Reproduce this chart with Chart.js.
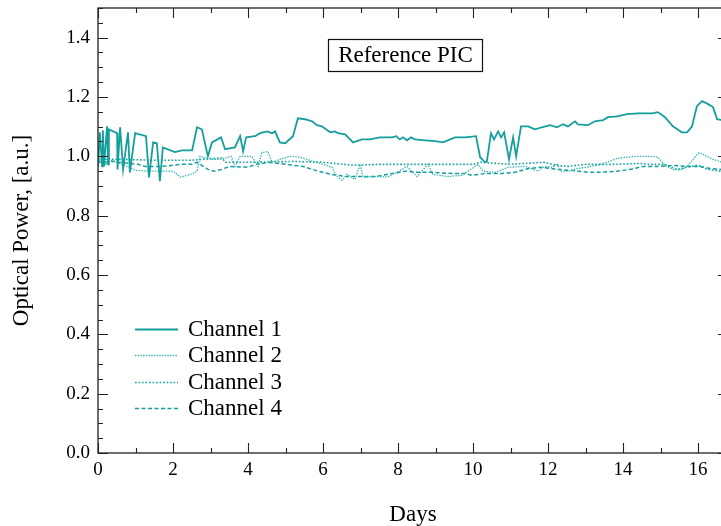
<!DOCTYPE html>
<html><head><meta charset="utf-8">
<script src="https://cdn.jsdelivr.net/npm/chart.js@4/dist/chart.umd.min.js"></script>
<style>html,body{margin:0;padding:0;overflow:hidden;background:#fff}</style>
</head><body>
<canvas id="c" width="740" height="526" style="display:block;width:740px;height:526px"></canvas>
<script>
// ---------------- data ----------------
const channelNames = ['Channel 1', 'Channel 2', 'Channel 3', 'Channel 4'];
const chartTitle = 'Reference PIC';
const xAxisTitle = 'Days';
const yAxisTitle = 'Optical Power, [a.u.]';
const xTickValues = [0, 2, 4, 6, 8, 10, 12, 14, 16];
const yTickValues = [0.0, 0.2, 0.4, 0.6, 0.8, 1.0, 1.2, 1.4];

const ch1Days = [0.00,0.05,0.11,0.13,0.16,0.24,0.27,0.29,0.51,0.52,0.59,0.67,0.80,0.85,0.99,1.28,1.36,1.47,1.57,1.65,1.73,2.05,2.24,2.51,2.64,2.77,2.93,3.04,3.28,3.39,3.65,3.79,3.87,3.95,4.19,4.32,4.51,4.64,4.72,4.85,4.99,5.20,5.33,5.52,5.71,5.84,5.97,6.19,6.32,6.40,6.59,6.80,7.04,7.25,7.52,7.84,7.95,8.05,8.13,8.24,8.35,8.45,8.72,8.99,9.20,9.52,9.79,10.08,10.19,10.32,10.37,10.48,10.56,10.67,10.75,10.83,10.96,11.07,11.15,11.28,11.47,11.65,11.84,12.05,12.24,12.40,12.53,12.72,12.80,13.07,13.25,13.47,13.60,13.84,14.11,14.40,14.77,14.93,15.12,15.33,15.57,15.71,15.84,15.97,16.11,16.27,16.40,16.51,16.64,16.80];
const ch1Power = [0.963,1.081,0.966,1.088,0.966,1.101,0.973,1.091,1.078,0.956,1.098,0.956,1.081,0.946,1.078,1.068,0.929,1.047,1.044,0.916,1.030,1.014,1.020,1.020,1.098,1.091,1.000,1.047,1.064,1.024,1.030,1.068,1.017,1.064,1.068,1.078,1.084,1.078,1.084,1.047,1.044,1.068,1.128,1.125,1.118,1.105,1.101,1.081,1.084,1.078,1.074,1.047,1.057,1.057,1.064,1.064,1.068,1.057,1.064,1.054,1.064,1.057,1.054,1.051,1.047,1.064,1.064,1.068,0.997,0.980,0.983,1.078,1.057,1.084,1.064,1.081,0.990,1.064,1.000,1.101,1.101,1.091,1.098,1.105,1.098,1.108,1.101,1.118,1.108,1.105,1.118,1.122,1.132,1.135,1.142,1.145,1.145,1.149,1.132,1.101,1.081,1.081,1.101,1.169,1.186,1.176,1.166,1.125,1.122,1.120];

const ch2Days = [0.00,0.10,0.20,0.30,0.50,0.80,1.00,1.40,2.00,2.20,2.50,2.64,2.72,3.00,3.30,3.55,3.65,3.79,4.10,4.27,4.37,4.53,4.64,4.85,5.12,5.39,5.73,6.00,6.24,6.37,6.51,6.64,6.72,6.85,6.99,7.07,7.44,7.71,7.97,8.24,8.51,8.80,8.93,9.33,9.70,9.97,10.13,10.27,10.59,10.93,11.39,11.73,11.92,12.13,12.24,12.35,12.59,12.77,13.04,13.31,13.57,13.84,14.11,14.37,14.72,14.93,15.12,15.33,15.52,15.71,15.87,16.03,16.24,16.40,16.64,16.80];
const ch2Power = [0.975,1.000,0.970,0.990,0.980,0.965,0.953,0.950,0.950,0.930,0.940,0.950,1.000,0.990,0.990,1.000,0.966,1.000,1.000,0.966,1.013,1.016,0.980,0.990,1.000,0.997,0.983,0.973,0.963,0.932,0.919,0.940,0.932,0.922,0.973,0.929,0.932,0.930,0.946,0.966,0.932,0.973,0.939,0.932,0.936,0.959,0.973,0.950,0.946,0.963,0.966,0.950,0.966,0.963,0.976,0.950,0.950,0.959,0.963,0.970,0.980,0.993,0.997,1.000,1.000,0.997,0.970,0.956,0.953,0.966,0.990,1.013,1.000,0.990,0.980,0.978];

const ch3Days = [0.00,0.50,1.50,2.50,3.30,3.40,4.20,5.20,6.00,6.80,7.50,8.30,9.20,10.00,10.20,11.00,11.90,12.20,12.50,13.00,13.80,14.40,14.70,15.10,15.45,15.80,16.00,16.25,16.60,16.80];
const ch3Power = [0.990,0.990,0.987,0.987,0.995,0.980,0.980,0.983,0.980,0.970,0.973,0.973,0.973,0.973,0.980,0.973,0.980,0.970,0.966,0.973,0.973,0.976,0.973,0.973,0.956,0.966,0.970,0.956,0.950,0.950];

const ch4Days = [0.00,0.40,1.07,1.25,1.70,2.24,2.51,2.64,2.93,3.10,3.30,3.50,4.00,4.20,4.60,5.00,5.47,5.87,6.20,6.59,7.00,7.40,7.70,8.20,8.50,8.90,9.45,9.79,9.97,10.32,10.77,11.12,11.47,11.84,12.24,12.59,13.07,13.39,13.84,14.19,14.53,14.99,15.33,15.79,16.05,16.32,16.64,16.80];
const ch4Power = [0.980,0.983,0.973,0.966,0.966,0.973,0.973,0.980,0.956,0.950,0.956,0.966,0.963,0.973,0.980,0.973,0.966,0.950,0.940,0.932,0.932,0.932,0.939,0.950,0.946,0.946,0.942,0.942,0.936,0.942,0.942,0.946,0.959,0.963,0.956,0.953,0.946,0.946,0.950,0.956,0.966,0.966,0.969,0.966,0.966,0.959,0.956,0.955];

// ---------------- chart ----------------
const zip = (xs, ys) => xs.map((x, i) => ({x: x, y: ys[i]}));
const SERIF = '"Liberation Serif", "Times New Roman", serif';

const styles = [
  {color: '#159f9c', width: 1.8, dash: []},
  {color: '#2db4b2', width: 1.3, dash: [1.4, 1.3]},
  {color: '#1ba6a3', width: 1.6, dash: [1.7, 1.8]},
  {color: '#169f9c', width: 1.5, dash: [4, 2.5]}
];
const series = [zip(ch1Days, ch1Power), zip(ch2Days, ch2Power), zip(ch3Days, ch3Power), zip(ch4Days, ch4Power)];

const decor = {
  id: 'decor',
  afterDatasetsDraw(chart) {
    const ctx = chart.ctx;
    const a = chart.chartArea;
    const xs = chart.scales.x, ys = chart.scales.y;
    ctx.save();
    ctx.setLineDash([]);
    ctx.strokeStyle = '#222';
    ctx.lineWidth = 1.3;
    ctx.strokeRect(a.left, a.top, a.right - a.left, a.bottom - a.top);
    ctx.lineWidth = 1.1;
    // x ticks (bottom & top), inward
    for (let v = 0; v <= 16.8001; v += 1) {
      const px = Math.round(xs.getPixelForValue(v)) + 0.5;
      const len = (Math.round(v) % 2 === 0) ? 10 : 5;
      ctx.beginPath();
      ctx.moveTo(px, a.bottom); ctx.lineTo(px, a.bottom - len);
      ctx.moveTo(px, a.top); ctx.lineTo(px, a.top + len);
      ctx.stroke();
    }
    // y ticks (left & right), inward
    for (let k = 0; k <= 30; k++) {
      const v = k * 0.05;
      const py = Math.round(ys.getPixelForValue(v)) + 0.5;
      const len = (k % 4 === 0) ? 10 : 5;
      ctx.beginPath();
      ctx.moveTo(a.left, py); ctx.lineTo(a.left + len, py);
      ctx.moveTo(a.right, py); ctx.lineTo(a.right - len, py);
      ctx.stroke();
    }
    // title box
    ctx.font = '23px ' + SERIF;
    ctx.fillStyle = '#000';
    ctx.textAlign = 'center';
    ctx.textBaseline = 'middle';
    ctx.fillText(chartTitle, 405.5, 56);
    ctx.strokeStyle = '#111';
    ctx.lineWidth = 1.2;
    ctx.strokeRect(328.5, 39.5, 154, 32);
    // legend
    chart.data.datasets.forEach((ds, i) => {
      const y = 329 + i * 26.4;
      ctx.beginPath();
      ctx.setLineDash(ds.borderDash || []);
      ctx.strokeStyle = ds.borderColor;
      ctx.lineWidth = ds.borderWidth;
      ctx.moveTo(135, Math.round(y) + 0.5); ctx.lineTo(178, Math.round(y) + 0.5);
      ctx.stroke();
      ctx.setLineDash([]);
      ctx.textAlign = 'left';
      ctx.fillStyle = '#000';
      ctx.font = '23px ' + SERIF;
      ctx.fillText(ds.label, 188, y + 1);
    });
    ctx.restore();
  }
};

new Chart(document.getElementById('c'), {
  type: 'line',
  data: {
    datasets: series.map((d, i) => ({
      label: channelNames[i],
      data: d,
      borderColor: styles[i].color,
      borderWidth: styles[i].width,
      borderDash: styles[i].dash,
      pointRadius: 0,
      tension: 0,
      fill: false
    }))
  },
  options: {
    responsive: false,
    devicePixelRatio: 1,
    animation: false,
    layout: {padding: {top: 8, right: 12, left: 0, bottom: 0}},
    plugins: {legend: {display: false}, tooltip: {enabled: false}},
    scales: {
      x: {
        type: 'linear', min: 0, max: 16.8,
        afterBuildTicks: s => { s.ticks = xTickValues.map(v => ({value: v})); },
        afterFit: s => { s.height = 73; s.paddingLeft = 0; s.paddingRight = 0; s.paddingTop = 0; s.paddingBottom = 0; },
        grid: {display: false, drawTicks: false},
        border: {display: false},
        ticks: {color: '#000', font: {family: SERIF, size: 19}, padding: 6, maxRotation: 0, callback: v => String(v)},
        title: {display: true, text: xAxisTitle, color: '#000', font: {family: SERIF, size: 23}, padding: {top: 0, bottom: -3}}
      },
      y: {
        type: 'linear', min: 0, max: 1.5,
        afterBuildTicks: s => { s.ticks = yTickValues.map(v => ({value: v})); },
        afterFit: s => { s.width = 98; s.paddingTop = 0; s.paddingBottom = 0; s.paddingLeft = 0; s.paddingRight = 0; },
        grid: {display: false, drawTicks: false},
        border: {display: false},
        ticks: {color: '#000', font: {family: SERIF, size: 19}, padding: 8, callback: v => Number(v).toFixed(1)},
        title: {display: true, text: yAxisTitle, color: '#000', font: {family: SERIF, size: 23}, padding: {top: 8, bottom: 0}}
      }
    }
  },
  plugins: [decor]
});
</script>
</body></html>
